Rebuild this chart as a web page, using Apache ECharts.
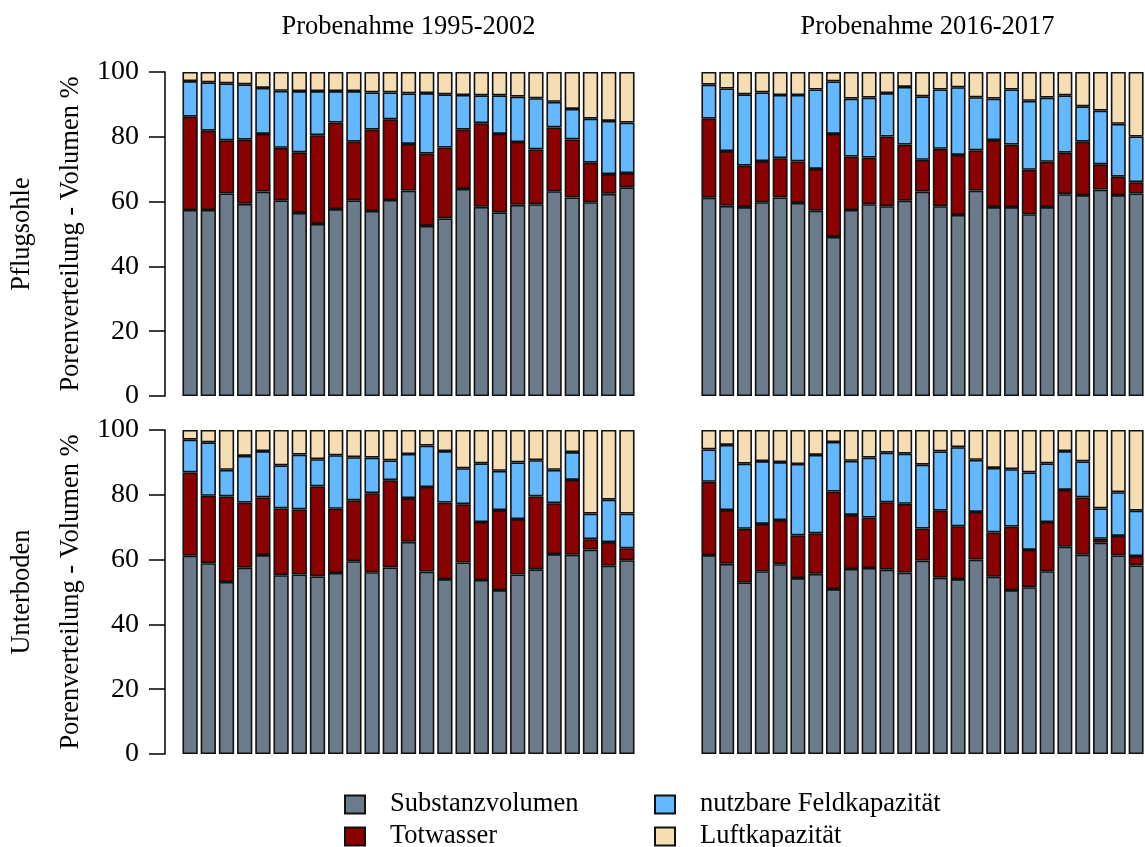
<!DOCTYPE html>
<html>
<head>
<meta charset="utf-8">
<script src="https://cdn.jsdelivr.net/npm/echarts@6/dist/echarts.min.js"></script>
<style>
  html, body { margin: 0; padding: 0; background: #fff; }
  #chart { width: 1145px; height: 847px; }
</style>
</head>
<body>
<div id="chart"></div>
<script>
// sample numbers (x categories, not labelled in the figure)
const categories = ['1','2','3','4','5','6','7','8','9','10','11','12','13',
  '14','15','16','17','18','19','20','21','22','23','24','25'];

const seriesNames = ['Substanzvolumen', 'Totwasser', 'nutzbare Feldkapazität', 'Luftkapazität'];
const seriesColors = ['#6C7B8B', '#8B0000', '#63B8FF', '#F5DEB3'];

const panelTitles = ['Probenahme 1995-2002', 'Probenahme 2016-2017'];
const rowLabels = ['Pflugsohle', 'Unterboden'];
const yTicks = [0, 20, 40, 60, 80, 100];

// Pflugsohle, Probenahme 1995-2002
const pflugAltSubstanz = [57.4, 57.4, 62.5, 59.3, 63.1, 60.4, 56.5, 53.1, 57.7, 60.4, 57.1, 60.5, 63.4, 52.5, 54.8, 63.9, 58.4, 56.7, 59.0, 59.2, 63.2, 61.3, 59.8, 62.4, 64.4];
const pflugAltTotwasser = [28.8, 24.5, 16.4, 19.8, 17.8, 16.2, 18.7, 27.4, 26.7, 18.1, 25.1, 24.9, 14.4, 22.3, 21.9, 18.3, 25.8, 24.2, 19.4, 16.9, 19.7, 17.9, 12.2, 6.1, 4.4];
const pflugAltNfk = [11.0, 14.9, 17.6, 17.1, 14.2, 17.6, 18.9, 13.6, 9.7, 15.6, 11.5, 8.3, 15.6, 18.7, 16.4, 10.7, 8.6, 11.9, 14.0, 15.8, 7.9, 9.4, 13.6, 16.4, 15.6];
const pflugAltLuft = [2.8, 3.2, 3.5, 3.8, 4.9, 5.8, 5.9, 5.9, 5.9, 5.9, 6.3, 6.3, 6.6, 6.5, 6.9, 7.1, 7.2, 7.2, 7.6, 8.1, 9.2, 11.4, 14.4, 15.1, 15.6];

// Pflugsohle, Probenahme 2016-2017
const pflugNeuSubstanz = [61.2, 58.7, 58.3, 59.8, 61.3, 59.6, 57.2, 49.1, 57.4, 59.2, 58.6, 60.3, 63.1, 58.6, 55.9, 63.4, 58.3, 58.3, 56.1, 58.3, 62.3, 62.0, 63.7, 62.0, 62.5];
const pflugNeuTotwasser = [24.4, 16.9, 12.8, 12.7, 12.1, 12.8, 12.9, 31.8, 16.5, 14.4, 21.5, 17.3, 9.8, 17.7, 18.5, 12.4, 20.7, 19.3, 13.7, 14.0, 12.8, 16.5, 7.8, 5.7, 3.5];
const pflugNeuNfk = [10.5, 19.3, 22.0, 21.2, 19.5, 20.5, 24.5, 16.2, 17.9, 18.5, 13.4, 17.8, 19.6, 18.3, 20.9, 16.4, 12.8, 17.0, 21.3, 19.8, 17.7, 10.9, 16.6, 16.3, 14.1];
const pflugNeuLuft = [3.9, 5.1, 6.9, 6.3, 7.1, 7.1, 5.4, 2.9, 8.2, 7.9, 6.5, 4.6, 7.5, 5.4, 4.7, 7.8, 8.2, 5.4, 8.9, 7.9, 7.2, 10.6, 11.9, 16.0, 19.9];

// Unterboden, Probenahme 1995-2002
const unterAltSubstanz = [61.2, 58.9, 53.1, 57.5, 61.4, 55.2, 55.4, 54.8, 55.9, 59.5, 56.1, 57.6, 65.5, 56.3, 54.0, 59.1, 53.7, 50.6, 55.4, 57.0, 61.7, 61.5, 63.1, 58.1, 59.8];
const unterAltTotwasser = [25.7, 20.8, 26.4, 20.1, 17.8, 20.6, 20.1, 27.8, 19.8, 18.8, 24.4, 26.9, 13.5, 26.1, 23.6, 18.0, 17.9, 24.7, 17.1, 22.5, 15.7, 23.1, 3.2, 7.3, 3.7];
const unterAltNfk = [10.1, 16.5, 8.2, 14.4, 14.3, 13.3, 16.9, 8.4, 16.5, 13.3, 11.0, 6.1, 13.6, 12.8, 15.9, 11.1, 18.1, 12.1, 17.5, 11.2, 10.3, 8.6, 7.9, 13.1, 10.7];
const unterAltLuft = [3.0, 3.8, 12.3, 8.0, 6.5, 10.9, 7.6, 9.0, 7.8, 8.4, 8.5, 9.4, 7.4, 4.8, 6.5, 11.8, 10.3, 12.6, 10.0, 9.3, 12.3, 6.8, 25.8, 21.5, 25.8];

// Unterboden, Probenahme 2016-2017
const unterNeuSubstanz = [61.4, 58.7, 53.0, 56.4, 58.6, 54.3, 55.6, 50.9, 57.1, 57.4, 56.9, 56.0, 59.7, 54.4, 54.0, 60.0, 54.7, 50.6, 51.5, 56.4, 64.0, 61.5, 65.2, 61.3, 58.2];
const unterNeuTotwasser = [22.6, 16.6, 16.5, 14.6, 13.6, 13.2, 12.5, 30.1, 16.7, 15.6, 20.8, 21.2, 9.9, 20.7, 16.3, 14.7, 13.7, 19.6, 11.5, 15.2, 17.5, 17.7, 1.2, 6.0, 2.9];
const unterNeuNfk = [10.0, 20.1, 20.1, 19.4, 17.9, 22.0, 24.2, 15.3, 16.7, 18.5, 15.3, 15.5, 19.7, 18.3, 24.4, 16.1, 19.9, 17.7, 23.9, 18.1, 12.0, 11.1, 9.4, 13.5, 14.0];
const unterNeuLuft = [6.0, 4.6, 10.4, 9.6, 9.9, 10.5, 7.7, 3.7, 9.5, 8.5, 7.0, 7.3, 10.7, 6.6, 5.3, 9.2, 11.7, 12.1, 13.1, 10.3, 6.5, 9.7, 24.2, 19.2, 24.9];

const panels = [
  [pflugAltSubstanz, pflugAltTotwasser, pflugAltNfk, pflugAltLuft],
  [pflugNeuSubstanz, pflugNeuTotwasser, pflugNeuNfk, pflugNeuLuft],
  [unterAltSubstanz, unterAltTotwasser, unterAltNfk, unterAltLuft],
  [unterNeuSubstanz, unterNeuTotwasser, unterNeuNfk, unterNeuLuft],
];

const FONT = '"Liberation Serif", "Times New Roman", serif';

// panel placement: two columns, two rows (right column runs past the page edge)
const colLeft = [181, 700];
const rowTop = [72, 430];
const panelW = 455;
const panelH = 324;

const grids = [];
const xAxes = [];
const yAxes = [];
const series = [];

panels.forEach((panel, p) => {
  const col = p % 2;
  const row = Math.floor(p / 2);
  grids.push({ left: colLeft[col], top: rowTop[row], width: panelW, height: panelH });
  xAxes.push({
    gridIndex: p,
    type: 'category',
    data: categories,
    show: false,
  });
  yAxes.push({
    gridIndex: p,
    type: 'value',
    min: 0,
    max: 100,
    interval: 20,
    show: col === 0,
    offset: 16,
    axisLine: { show: true, lineStyle: { color: '#000', width: 1.5 } },
    axisTick: { show: true, length: 16, lineStyle: { color: '#000', width: 1.5 } },
    axisLabel: {
      margin: 26,
      fontSize: 28,
      fontFamily: FONT,
      color: '#000',
      customValues: yTicks,
    },
    splitLine: { show: false },
  });
  panel.forEach((values, s) => {
    series.push({
      name: seriesNames[s],
      type: 'bar',
      xAxisIndex: p,
      yAxisIndex: p,
      stack: 'panel' + p,
      data: values,
      barWidth: '84%',
      itemStyle: {
        color: seriesColors[s],
        borderColor: '#111',
        borderWidth: 1.6,
      },
    });
  });
});

const textStyle = (txt) => ({
  text: txt,
  font: '26.5px ' + FONT,
  fill: '#000',
  textAlign: 'center',
  textVerticalAlign: 'middle',
});

const graphics = [];
panelTitles.forEach((t, i) => {
  graphics.push({ type: 'text', x: colLeft[i] + panelW / 2, y: 27, style: textStyle(t) });
});
rowLabels.forEach((t, i) => {
  const cy = rowTop[i] + panelH / 2;
  graphics.push({ type: 'text', x: 22, y: cy, rotation: Math.PI / 2, style: textStyle(t) });
  graphics.push({ type: 'text', x: 71, y: cy, rotation: Math.PI / 2, style: textStyle('Porenverteilung - Volumen %') });
});

// legend: 2 x 2 block below the panels, one legend per entry
const legendLeft = [344, 344, 654, 654];
const legendTop = [791, 823, 791, 823];
const legends = seriesNames.map((name, i) => ({
  left: legendLeft[i],
  top: legendTop[i],
  padding: 0,
  itemWidth: 20,
  itemHeight: 18,
  icon: 'rect',
  selectedMode: false,
  data: [name],
  textStyle: { fontSize: 26.5, fontFamily: FONT, color: '#000', padding: [0, 0, 0, 20] },
}));

const chart = echarts.init(document.getElementById('chart'));
chart.setOption({
  animation: false,
  backgroundColor: '#fff',
  grid: grids,
  xAxis: xAxes,
  yAxis: yAxes,
  legend: legends,
  graphic: graphics,
  series: series,
});
</script>
</body>
</html>
